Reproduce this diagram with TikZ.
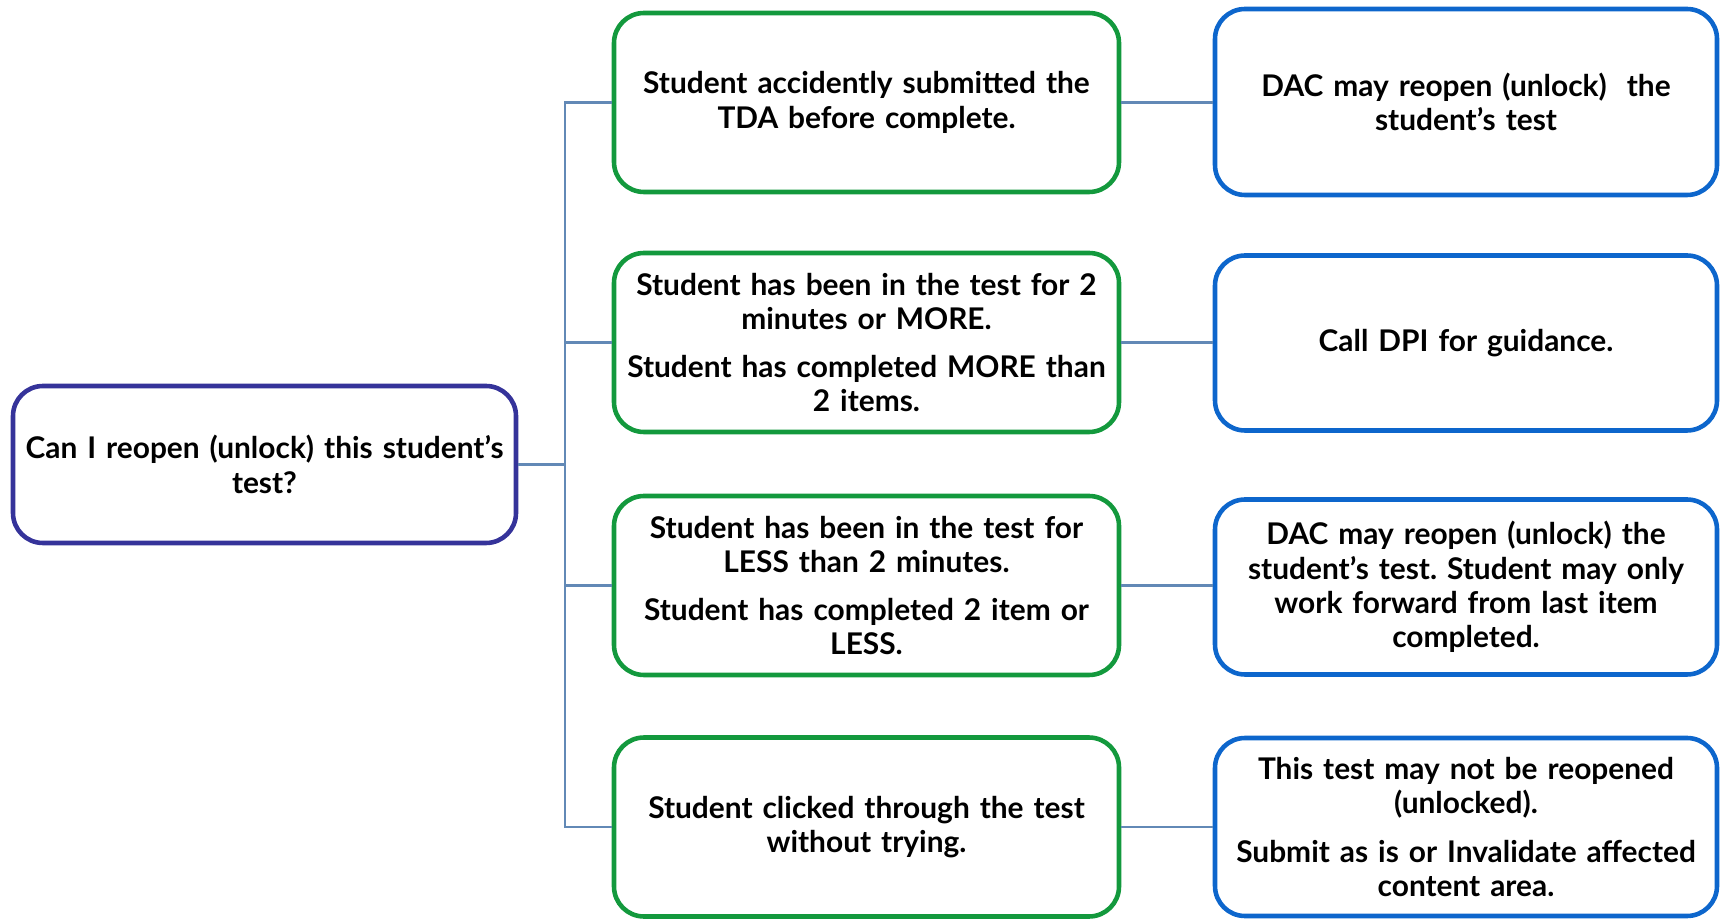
\documentclass[tikz,border=0pt]{standalone}
\usepackage{fontspec}
\setmainfont{Lato}
\usepackage{xcolor}
\usetikzlibrary{positioning, calc}
\definecolor{rootblue}{HTML}{35339A}
\definecolor{condgreen}{HTML}{13993D}
\definecolor{actblue}{HTML}{0D66CC}
\definecolor{linkblue}{HTML}{6289B6}
\tikzset{
  rootbox/.style = {rectangle, draw=rootblue, line width=2.6pt, rounded corners=0.6cm,
                    minimum width=10.06cm, minimum height=3.14cm, text width=9.8cm,
                    align=center, font=\fontsize{17}{19.5}\selectfont\bfseries},
  condbox/.style = {rectangle, draw=condgreen, line width=2.6pt, rounded corners=0.6cm,
                    minimum width=10.1cm, minimum height=3.58cm, text width=9.8cm,
                    align=center, font=\fontsize{17}{19.5}\selectfont\bfseries},
  actbox/.style  = {rectangle, draw=actblue, line width=2.6pt, rounded corners=0.6cm,
                    minimum width=10.04cm, minimum height=3.5cm, text width=9.8cm,
                    align=center, font=\fontsize{17}{19.5}\selectfont\bfseries},
  link/.style    = {draw=linkblue, line width=1.2pt},
}
\frenchspacing
\begin{document}
\begin{tikzpicture}
    \useasboundingbox (0,0) rectangle (34.4,18.38);

    %% Question
    \node[rootbox] (root) at (5.29, 9.09) {Can I reopen (unlock) this student's\\test?};

    %% Conditions
    \node[condbox] (c1) at (17.33, 16.33) {Student accidently submitted the\\TDA before complete.};
    \node[condbox] (c2) at (17.33, 11.53) {Student has been in the test for 2\\minutes or MORE.\\[8pt]
                                           Student has completed MORE than\\2 items.};
    \node[condbox] (c3) at (17.33,  6.67) {Student has been in the test for\\LESS than 2 minutes.\\[8pt]
                                           Student has completed 2 item or\\LESS.};
    \node[condbox] (c4) at (17.33,  1.84) {Student clicked through the test\\without trying.};

    %% Actions
    \node[actbox, minimum height=3.72cm] (a1) at (29.32, 16.34) {DAC may reopen (unlock)~ the\\student's test};
    \node[actbox] (a2) at (29.32, 11.52) {Call DPI for guidance.};
    \node[actbox] (a3) at (29.32,  6.64) {DAC may reopen (unlock) the\\student's test. Student may only\\work forward from last item\\completed.};
    \node[actbox, minimum height=3.56cm] (a4) at (29.32,  1.84) {This test may not be reopened\\(unlocked).\\[8pt]
                                           Submit as is or Invalidate affected\\content area.};

    %% Connectors
    \coordinate (trunk) at (11.3, 9.09);
    \draw[link] (root.east) -- (trunk);
    \foreach \i in {1,...,4} {
      \draw[link] (trunk) |- (c\i.west);
      \draw[link] (c\i.east) -- (c\i.east -| a\i.west);
    }

  \end{tikzpicture}
\end{document}
